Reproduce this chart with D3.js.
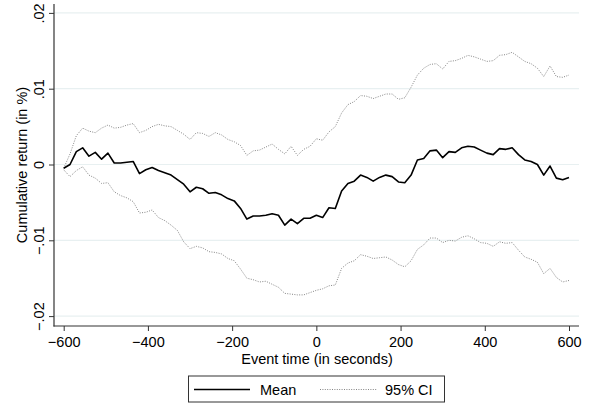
<!DOCTYPE html>
<html>
<head>
<meta charset="utf-8">
<script src="https://cdn.jsdelivr.net/npm/d3@7"></script>
<style>
  body { margin: 0; background: #fff; }
  svg { display: block; font-family: "Liberation Sans", Arial, Helvetica, sans-serif; }
</style>
</head>
<body>
<svg class="canvas" width="590" height="404"></svg>
<script>
// event time in seconds, read every 15 s off the picture
var eventTime = [
  -600, -585, -570, -555, -540, -525, -510, -495, -480, -465, -450, -435, -420, -405, -390, -375, -360,
  -345, -330, -315, -300, -285, -270, -255, -240, -225, -210, -195, -180, -165, -150, -135, -120,
  -105, -90, -75, -60, -45, -30, -15, 0, 15, 30, 45, 60, 75, 90, 105, 120, 135, 150, 165, 180,
  195, 210, 225, 240, 255, 270, 285, 300, 315, 330, 345, 360, 375, 390, 405, 420, 435, 450, 465,
  480, 495, 510, 525, 540, 555, 570, 585, 600
];

var meanReturn = [
  -0.0005, 0.0000, 0.0017, 0.0022, 0.0011, 0.0016, 0.0007, 0.0015, 0.0002, 0.0002, 0.0003, 0.0004, -0.0012, -0.0007, -0.0004, -0.0008, -0.0011,
  -0.0014, -0.0020, -0.0026, -0.0036, -0.0030, -0.0032, -0.0038, -0.0037, -0.0040, -0.0045, -0.0048, -0.0058, -0.0072, -0.0068, -0.0068, -0.0067,
  -0.0065, -0.0067, -0.0080, -0.0072, -0.0078, -0.0071, -0.0071, -0.0067, -0.0070, -0.0057, -0.0058, -0.0035, -0.0025, -0.0022, -0.0014, -0.0017, -0.0022, -0.0017, -0.0014, -0.0016,
  -0.0023, -0.0024, -0.0014, 0.0006, 0.0008, 0.0018, 0.0019, 0.0009, 0.0017, 0.0016, 0.0022, 0.0024, 0.0023, 0.0019, 0.0015, 0.0013, 0.0021, 0.0020, 0.0022,
  0.0013, 0.0006, 0.0004, 0.0000, -0.0014, -0.0002, -0.0018, -0.0020, -0.0017
];

var upperCI = [
  -0.0005, 0.0014, 0.0038, 0.0048, 0.0044, 0.0042, 0.0048, 0.0052, 0.0048, 0.0049, 0.0052, 0.0054, 0.0042, 0.0045, 0.0050, 0.0053, 0.0051,
  0.0050, 0.0045, 0.0040, 0.0033, 0.0042, 0.0041, 0.0037, 0.0042, 0.0039, 0.0033, 0.0030, 0.0025, 0.0012, 0.0018, 0.0019, 0.0023,
  0.0027, 0.0020, 0.0014, 0.0024, 0.0012, 0.0020, 0.0024, 0.0034, 0.0032, 0.0043, 0.0050, 0.0068, 0.0079, 0.0083, 0.0091, 0.0090, 0.0087, 0.0090, 0.0093, 0.0093,
  0.0086, 0.0088, 0.0102, 0.0118, 0.0127, 0.0132, 0.0133, 0.0126, 0.0136, 0.0137, 0.0140, 0.0144, 0.0142, 0.0139, 0.0136, 0.0137, 0.0144, 0.0145, 0.0148,
  0.0142, 0.0136, 0.0133, 0.0127, 0.0116, 0.0130, 0.0116, 0.0115, 0.0118
];

var lowerCI = [
  -0.0007, -0.0016, -0.0008, -0.0003, -0.0014, -0.0018, -0.0025, -0.0024, -0.0036, -0.0041, -0.0044, -0.0049, -0.0064, -0.0063, -0.0060, -0.0070, -0.0074,
  -0.0080, -0.0087, -0.0102, -0.0111, -0.0108, -0.0110, -0.0115, -0.0116, -0.0118, -0.0124, -0.0127, -0.0138, -0.0150, -0.0152, -0.0155, -0.0154,
  -0.0158, -0.0162, -0.0170, -0.0171, -0.0172, -0.0172, -0.0169, -0.0166, -0.0164, -0.0160, -0.0159, -0.0137, -0.0130, -0.0127, -0.0119, -0.0121, -0.0124, -0.0123, -0.0122, -0.0126,
  -0.0132, -0.0135, -0.0127, -0.0112, -0.0106, -0.0097, -0.0097, -0.0103, -0.0100, -0.0101, -0.0096, -0.0094, -0.0098, -0.0103, -0.0104, -0.0108, -0.0102, -0.0104, -0.0103,
  -0.0113, -0.0122, -0.0125, -0.0129, -0.0144, -0.0137, -0.0149, -0.0155, -0.0153
];

var xTicks = [-600, -400, -200, 0, 200, 400, 600];
var yTicks = [-0.02, -0.01, 0, 0.01, 0.02];
var legendLabels = ['Mean', '95% CI'];

var svg = d3.select('.canvas');

// plot region (Stata style, axes sit on region edges)
var region = {left: 54, right: 579, top: 4, bottom: 326};

var x = d3.scaleLinear().domain([-600, 600]).range([63.7, 569]);
var y = d3.scaleLinear().domain([-0.02, 0.02]).range([316.1, 12.9]);

var fmtY = function(d){
    if(d === 0) return '0';
    return d3.format('.2f')(d).replace('0.', '.');
};

// gridlines
svg.append('g')
    .classed('grid', true)
    .selectAll('line')
    .data(yTicks)
    .join('line')
    .attr('x1', region.left)
    .attr('x2', region.right)
    .attr('y1', d => y(d))
    .attr('y2', d => y(d))
    .attr('stroke', '#e8f0f1')
    .attr('stroke-width', 1.2);

// series
var line = d3.line()
    .x((d, i) => x(eventTime[i]))
    .y(d => y(d));

[upperCI, lowerCI].forEach(function(s){
    svg.append('path')
        .datum(s)
        .attr('d', line)
        .attr('fill', 'none')
        .attr('stroke', '#777')
        .attr('stroke-width', 0.9)
        .attr('stroke-dasharray', '1 1.4');
});

svg.append('path')
    .datum(meanReturn)
    .attr('d', line)
    .attr('fill', 'none')
    .attr('stroke', '#000')
    .attr('stroke-width', 1.6)
    .attr('stroke-linejoin', 'round');

// y axis
var yAxis = svg.append('g')
    .attr('transform', 'translate(' + region.left + ',0)')
    .call(d3.axisLeft(y).tickValues(yTicks).tickFormat(fmtY).tickSize(5));
yAxis.select('.domain').remove();
yAxis.selectAll('.tick line').attr('stroke', '#333');
yAxis.selectAll('.tick text')
    .attr('x', 0)
    .attr('y', -10.5)
    .attr('dy', 0)
    .attr('transform', 'rotate(-90)')
    .attr('text-anchor', 'middle')
    .attr('fill', '#000')
    .style('font-size', '14.5px')
    .style('font-family', null);

// x axis
var xAxis = svg.append('g')
    .attr('transform', 'translate(0,' + region.bottom + ')')
    .call(d3.axisBottom(x).tickValues(xTicks).tickFormat(d3.format('d')).tickSize(5));
xAxis.select('.domain').remove();
xAxis.selectAll('.tick line').attr('stroke', '#333');
xAxis.selectAll('.tick text')
    .attr('y', 20.5)
    .attr('dy', 0)
    .attr('fill', '#000')
    .style('font-size', '14.5px')
    .style('font-family', null);

// axis lines
svg.append('line')
    .attr('x1', region.left).attr('x2', region.left)
    .attr('y1', region.top).attr('y2', region.bottom + 0.5)
    .attr('stroke', '#333').attr('stroke-width', 1.2);
svg.append('line')
    .attr('x1', region.left - 0.5).attr('x2', region.right)
    .attr('y1', region.bottom).attr('y2', region.bottom)
    .attr('stroke', '#333').attr('stroke-width', 1.2);

// axis titles
svg.append('text')
    .attr('x', (region.left + region.right) / 2 + 0.5)
    .attr('y', 363.5)
    .attr('text-anchor', 'middle')
    .style('font-size', '14.5px')
    .text('Event time (in seconds)');

svg.append('text')
    .attr('transform', 'translate(26.5,' + ((region.top + region.bottom) / 2) + ') rotate(-90)')
    .attr('text-anchor', 'middle')
    .style('font-size', '14.5px')
    .text('Cumulative return (in %)');

// legend
var legend = svg.append('g').classed('legend', true);
legend.append('rect')
    .attr('x', 188.5).attr('y', 376)
    .attr('width', 256).attr('height', 26)
    .attr('fill', '#fff')
    .attr('stroke', '#333')
    .attr('stroke-width', 1);

legend.append('line')
    .attr('x1', 194).attr('x2', 250)
    .attr('y1', 389.5).attr('y2', 389.5)
    .attr('stroke', '#000').attr('stroke-width', 1.6);
legend.append('text')
    .attr('x', 260).attr('y', 395)
    .style('font-size', '14.5px')
    .text(legendLabels[0]);

legend.append('line')
    .attr('x1', 320).attr('x2', 377)
    .attr('y1', 389.5).attr('y2', 389.5)
    .attr('stroke', '#777').attr('stroke-width', 0.9)
    .attr('stroke-dasharray', '1 1.4');
legend.append('text')
    .attr('x', 385).attr('y', 395)
    .style('font-size', '14.5px')
    .text(legendLabels[1]);
</script>
</body>
</html>
